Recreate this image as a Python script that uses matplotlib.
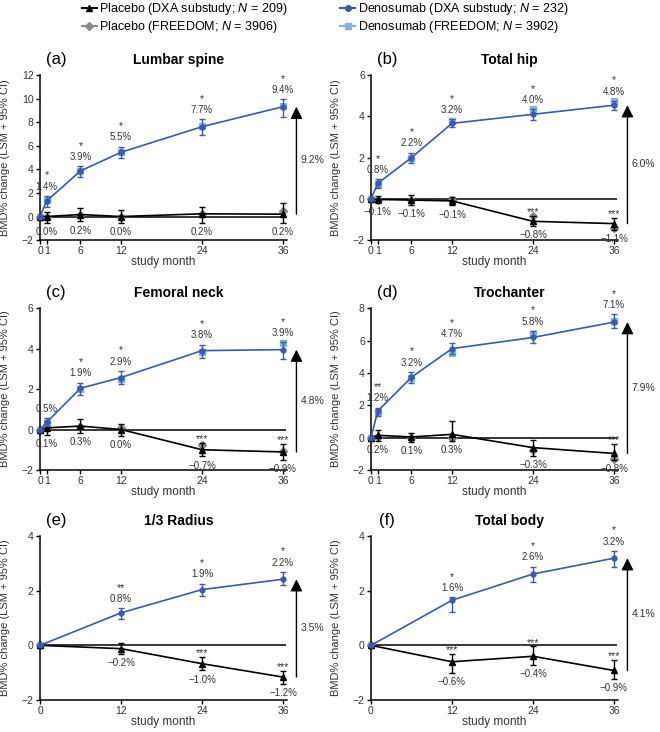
import numpy as np
import matplotlib.pyplot as plt
from matplotlib.lines import Line2D

plt.rcParams["font.family"] = ["Liberation Sans", "DejaVu Sans"]
plt.rcParams["mathtext.fontset"] = "custom"
plt.rcParams["mathtext.rm"] = "Liberation Sans"
plt.rcParams["mathtext.it"] = "Liberation Sans:italic"

# ---- data ----
months6 = [0, 1, 6, 12, 24, 36]
months4 = [0, 12, 24, 36]
nan = np.nan

# (a) Lumbar spine
ls_den = [0, 1.33, 3.87, 5.45, 7.62, 9.32]
ls_den_lo = [0, 0.85, 3.39, 4.94, 6.92, 8.47]
ls_den_hi = [0, 1.75, 4.29, 5.93, 8.24, 9.94]
ls_den_fr = [0, 1.4, 3.9, 5.5, 7.7, 9.35]
ls_pla = [0, 0.0, 0.17, 0.0, 0.23, 0.2]
ls_pla_lo = [0, -0.51, -0.42, -0.56, -0.51, -0.56]
ls_pla_hi = [0, 0.42, 0.7, 0.56, 0.85, 1.13]
ls_pla_fr = [0, 0.0, 0.1, 0.0, 0.2, 0.5]
ls_den_star = ["", "*", "*", "*", "*", "*"]
ls_den_pct = ["", "1.4%", "3.9%", "5.5%", "7.7%", "9.4%"]
ls_pla_star = ["", "", "", "", "", ""]
ls_pla_pct = ["", "0.0%", "0.2%", "0.0%", "0.2%", "0.2%"]
ls_diff = "9.2%"

# (b) Total hip
th_den = [0, 0.75, 2.0, 3.66, 4.1, 4.54]
th_den_lo = [0, 0.53, 1.75, 3.5, 3.82, 4.29]
th_den_hi = [0, 0.94, 2.24, 3.86, 4.34, 4.75]
th_den_fr = [0, 0.72, 2.0, 3.78, 4.38, 4.75]
th_pla = [0, -0.03, -0.06, -0.1, -1.09, -1.2]
th_pla_lo = [0, -0.2, -0.28, -0.32, -1.3, -1.49]
th_pla_hi = [0, 0.13, 0.21, 0.1, -0.84, -0.92]
th_pla_fr = [0, -0.05, -0.05, -0.05, -0.84, -1.41]
th_den_star = ["", "*", "*", "*", "*", "*"]
th_den_pct = ["", "0.8%", "2.2%", "3.2%", "4.0%", "4.8%"]
th_pla_star = ["", "", "", "", "***", "***"]
th_pla_pct = ["", "−0.1%", "−0.1%", "−0.1%", "−0.8%", "−1.1%"]
th_diff = "6.0%"

# (c) Femoral neck
fn_den = [0, 0.36, 2.04, 2.57, 3.9, 3.95]
fn_den_lo = [0, 0.17, 1.71, 2.27, 3.53, 3.48]
fn_den_hi = [0, 0.58, 2.32, 2.9, 4.2, 4.31]
fn_den_fr = [0, 0.3, 2.0, 2.52, 3.85, 4.26]
fn_pla = [0, 0.08, 0.17, 0.0, -1.0, -1.11]
fn_pla_lo = [0, -0.28, -0.17, -0.33, -1.33, -1.49]
fn_pla_hi = [0, 0.38, 0.5, 0.28, -0.66, -0.71]
fn_pla_fr = [0, 0.05, 0.1, 0.05, -0.75, -1.08]
fn_den_star = ["", "", "*", "*", "*", "*"]
fn_den_pct = ["", "0.5%", "1.9%", "2.9%", "3.8%", "3.9%"]
fn_pla_star = ["", "", "", "", "***", "***"]
fn_pla_pct = ["", "0.1%", "0.3%", "0.0%", "−0.7%", "−0.9%"]
fn_diff = "4.8%"

# (d) Trochanter
tr_den = [0, 1.64, 3.73, 5.5, 6.19, 7.14]
tr_den_lo = [0, 1.33, 3.38, 5.17, 5.85, 6.77]
tr_den_hi = [0, 1.85, 4.06, 5.85, 6.6, 7.63]
tr_den_fr = [0, 1.6, 3.7, 5.23, 6.4, 7.18]
tr_pla = [0, 0.14, 0.04, 0.2, -0.62, -0.98]
tr_pla_lo = [0, -0.2, -0.25, -0.2, -1.13, -1.39]
tr_pla_hi = [0, 0.45, 0.3, 1.03, -0.16, -0.41]
tr_pla_fr = [0, 0.05, 0.0, 0.0, -0.78, -1.33]
tr_den_star = ["", "**", "*", "*", "*", "*"]
tr_den_pct = ["", "1.2%", "3.2%", "4.7%", "5.8%", "7.1%"]
tr_pla_star = ["", "", "", "", "", "***"]
tr_pla_pct = ["", "0.2%", "0.1%", "0.3%", "−0.3%", "−0.8%"]
tr_diff = "7.9%"

# (e) 1/3 Radius
ra_den = [0, 1.19, 2.04, 2.42]
ra_den_lo = [0, 0.98, 1.8, 2.2]
ra_den_hi = [0, 1.35, 2.26, 2.69]
ra_den_fr = [0, nan, nan, nan]
ra_pla = [0, -0.12, -0.67, -1.16]
ra_pla_lo = [0, -0.31, -0.92, -1.41]
ra_pla_hi = [0, 0.09, -0.43, -0.94]
ra_pla_fr = [0, nan, nan, nan]
ra_den_star = ["", "**", "*", "*"]
ra_den_pct = ["", "0.8%", "1.9%", "2.2%"]
ra_pla_star = ["", "", "***", "***"]
ra_pla_pct = ["", "−0.2%", "−1.0%", "−1.2%"]
ra_diff = "3.5%"

# (f) Total body
tb_den = [0, 1.65, 2.61, 3.19]
tb_den_lo = [0, 1.23, 2.31, 2.86]
tb_den_hi = [0, 1.77, 2.88, 3.46]
tb_den_fr = [0, nan, nan, nan]
tb_pla = [0, -0.6, -0.4, -0.92]
tb_pla_lo = [0, -1.02, -0.73, -1.24]
tb_pla_hi = [0, -0.3, -0.04, -0.52]
tb_pla_fr = [0, nan, nan, nan]
tb_den_star = ["", "*", "*", "*"]
tb_den_pct = ["", "1.6%", "2.6%", "3.2%"]
tb_pla_star = ["", "***", "***", "***"]
tb_pla_pct = ["", "−0.6%", "−0.4%", "−0.9%"]
tb_diff = "4.1%"

# colours
c_den = "#3a5ba8"
c_den_fr = "#82b4e6"
c_pla = "black"
c_pla_fr = "#8a8a8a"
c_txt = "#333333"


def draw_panel(ax, letter, title, x, den, den_lo, den_hi, den_fr,
               pla, pla_lo, pla_hi, pla_fr,
               den_star, den_pct, pla_star, pla_pct, diff, yticks):
    x = np.array(x, dtype=float)
    den, den_lo, den_hi = np.array(den), np.array(den_lo), np.array(den_hi)
    pla, pla_lo, pla_hi = np.array(pla), np.array(pla_lo), np.array(pla_hi)

    ax.hlines(0, 0, 36.5, color="black", lw=1.1, zorder=1)

    # FREEDOM markers (behind)
    ax.plot(x, pla_fr, ls="none", marker="D", ms=4.5, color=c_pla_fr,
            zorder=2, clip_on=False)
    ax.plot(x, den_fr, ls="none", marker="s", ms=5, color=c_den_fr,
            zorder=2, clip_on=False)

    # DXA substudy lines with error bars
    ax.errorbar(x, pla, yerr=[pla - pla_lo, pla_hi - pla], color=c_pla,
                marker="^", ms=5, lw=1.2, elinewidth=1, capsize=2.5,
                zorder=3, clip_on=False)
    ax.errorbar(x, den, yerr=[den - den_lo, den_hi - den], color=c_den,
                marker="o", ms=3.5, lw=1.2, elinewidth=1, capsize=2.5,
                zorder=4, clip_on=False)

    # value labels
    for i in range(len(x)):
        if den_pct[i]:
            ax.annotate(den_pct[i], (x[i], den_hi[i]), xytext=(0, 4.5),
                        textcoords="offset points", ha="center",
                        va="baseline", fontsize=7, color=c_txt)
        if den_star[i]:
            ax.annotate(den_star[i], (x[i], den_hi[i]), xytext=(0, 12.5),
                        textcoords="offset points", ha="center",
                        va="baseline", fontsize=7.5, color=c_txt)
        if pla_pct[i]:
            ax.annotate(pla_pct[i], (x[i], pla_lo[i]), xytext=(0, -3),
                        textcoords="offset points", ha="center", va="top",
                        fontsize=7, color=c_txt)
        if pla_star[i]:
            ax.annotate(pla_star[i], (x[i], pla_hi[i]), xytext=(0, 0.5),
                        textcoords="offset points", ha="center",
                        va="baseline", fontsize=7.5, color=c_txt)

    # difference arrow at month 36
    lo, hi = pla[-1], den[-1]
    ax.annotate("", xy=(38, hi), xytext=(38, lo),
                arrowprops=dict(arrowstyle="-|>,head_length=0.6,head_width=0.3",
                                color="black", lw=1, mutation_scale=12,
                                shrinkA=0, shrinkB=0),
                annotation_clip=False)
    ax.annotate(diff, (38, (lo + hi) / 2), xytext=(3, 0),
                textcoords="offset points", ha="left", va="center",
                fontsize=7.5, color=c_txt, annotation_clip=False)

    # axes styling
    ax.set_xlim(0, 36.6)
    ax.set_ylim(yticks[0], yticks[-1])
    ax.set_xticks(x)
    ax.set_xticklabels([str(int(v)) for v in x])
    ax.set_yticks(yticks)
    ax.spines["top"].set_visible(False)
    ax.spines["right"].set_visible(False)
    for s in ("left", "bottom"):
        ax.spines[s].set_linewidth(1.1)
    ax.tick_params(direction="out", length=3, width=1, labelsize=7.5,
                   labelcolor=c_txt, pad=1.5)
    ax.set_xlabel("study month", fontsize=8.5, labelpad=0, color=c_txt)
    ax.set_ylabel("BMD% change (LSM + 95% CI)", fontsize=8, color=c_txt)
    ax.yaxis.set_label_coords(-0.12, 0.5)

    ax.annotate(title, (0.56, 1), xycoords="axes fraction", xytext=(0, 11),
                textcoords="offset points", ha="center", va="center",
                fontsize=10, fontweight="bold")
    ax.annotate(letter, (0.065, 1), xycoords="axes fraction", xytext=(0, 11),
                textcoords="offset points", ha="center", va="center",
                fontsize=12)


fig = plt.figure(figsize=(6.6, 7.32), dpi=100)

col_left = [40 / 660, 371 / 660]
width = 247 / 660
rows = [(0.672, 0.2254), (0.358, 0.221), (0.0437, 0.224)]

ax_a = fig.add_axes([col_left[0], rows[0][0], width, rows[0][1]])
ax_b = fig.add_axes([col_left[1], rows[0][0], width, rows[0][1]])
ax_c = fig.add_axes([col_left[0], rows[1][0], width, rows[1][1]])
ax_d = fig.add_axes([col_left[1], rows[1][0], width, rows[1][1]])
ax_e = fig.add_axes([col_left[0], rows[2][0], width, rows[2][1]])
ax_f = fig.add_axes([col_left[1], rows[2][0], width, rows[2][1]])

draw_panel(ax_a, "(a)", "Lumbar spine", months6, ls_den, ls_den_lo, ls_den_hi,
           ls_den_fr, ls_pla, ls_pla_lo, ls_pla_hi, ls_pla_fr, ls_den_star,
           ls_den_pct, ls_pla_star, ls_pla_pct, ls_diff, [-2, 0, 2, 4, 6, 8, 10, 12])
draw_panel(ax_b, "(b)", "Total hip", months6, th_den, th_den_lo, th_den_hi,
           th_den_fr, th_pla, th_pla_lo, th_pla_hi, th_pla_fr, th_den_star,
           th_den_pct, th_pla_star, th_pla_pct, th_diff, [-2, 0, 2, 4, 6])
draw_panel(ax_c, "(c)", "Femoral neck", months6, fn_den, fn_den_lo, fn_den_hi,
           fn_den_fr, fn_pla, fn_pla_lo, fn_pla_hi, fn_pla_fr, fn_den_star,
           fn_den_pct, fn_pla_star, fn_pla_pct, fn_diff, [-2, 0, 2, 4, 6])
draw_panel(ax_d, "(d)", "Trochanter", months6, tr_den, tr_den_lo, tr_den_hi,
           tr_den_fr, tr_pla, tr_pla_lo, tr_pla_hi, tr_pla_fr, tr_den_star,
           tr_den_pct, tr_pla_star, tr_pla_pct, tr_diff, [-2, 0, 2, 4, 6, 8])
draw_panel(ax_e, "(e)", "1/3 Radius", months4, ra_den, ra_den_lo, ra_den_hi,
           ra_den_fr, ra_pla, ra_pla_lo, ra_pla_hi, ra_pla_fr, ra_den_star,
           ra_den_pct, ra_pla_star, ra_pla_pct, ra_diff, [-2, 0, 2, 4])
draw_panel(ax_f, "(f)", "Total body", months4, tb_den, tb_den_lo, tb_den_hi,
           tb_den_fr, tb_pla, tb_pla_lo, tb_pla_hi, tb_pla_fr, tb_den_star,
           tb_den_pct, tb_pla_star, tb_pla_pct, tb_diff, [-2, 0, 2, 4])

handles = [
    Line2D([], [], color=c_pla, marker="^", ms=5, lw=1.5),
    Line2D([], [], color=c_pla_fr, marker="D", ms=4.5, lw=1.5),
    Line2D([], [], color=c_den, marker="o", ms=4, lw=1.5),
    Line2D([], [], color=c_den_fr, marker="s", ms=5, lw=1.5),
]
labels = [
    "Placebo (DXA substudy; $N$ = 209)",
    "Placebo (FREEDOM; $N$ = 3906)",
    "Denosumab (DXA substudy; $N$ = 232)",
    "Denosumab (FREEDOM; $N$ = 3902)",
]
fig.legend(handles, labels, loc="upper left", bbox_to_anchor=(0.122, 1.0),
           ncol=2, frameon=False, fontsize=9, handlelength=1.2,
           handletextpad=0.2, columnspacing=4.2, labelspacing=0.15,
           borderpad=0.1, borderaxespad=0)

fig.savefig("out.png", dpi=100)
